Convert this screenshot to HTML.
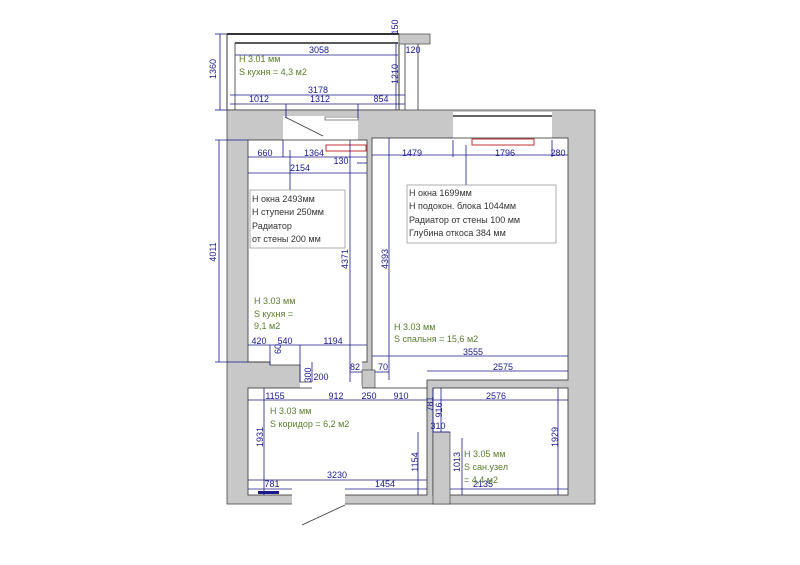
<!DOCTYPE html>
<html><head><meta charset="utf-8"><style>
html,body{margin:0;padding:0;background:#fff}
svg{display:block}
text{font-family:"Liberation Sans","DejaVu Sans",sans-serif;font-size:9px}
.d{fill:#1a1a8c}
.g{fill:#5a7a2a;font-size:9.5px}
.c{fill:#333;font-size:10.5px}
.dl{stroke:#1a1a8c;stroke-width:0.8;fill:none}
</style></head><body>
<svg width="800" height="565" viewBox="0 0 800 565">
<!-- balcony -->
<rect x="227" y="34" width="172" height="76" fill="#fff" stroke="#333" stroke-width="1"/>
<line x1="227" y1="34" x2="399" y2="34" stroke="#333" stroke-width="2"/>
<rect x="399" y="34" width="31" height="10" fill="#c8c8c8" stroke="#555" stroke-width="0.8"/>
<line x1="235" y1="43" x2="398" y2="43" stroke="#222" stroke-width="1.5"/>
<line x1="235" y1="43" x2="235" y2="110" stroke="#333" stroke-width="0.8"/>
<line x1="399" y1="44" x2="399" y2="110" stroke="#333" stroke-width="0.8"/>
<line x1="405" y1="44" x2="405" y2="110" stroke="#333" stroke-width="0.8"/>
<line x1="418" y1="44" x2="418" y2="110" stroke="#333" stroke-width="0.8"/>
<!-- main walls -->
<rect x="227" y="110" width="368" height="394" fill="#c8c8c8" stroke="#444" stroke-width="0.8"/>
<!-- vestibule opening -->
<rect x="283" y="116" width="75" height="26" fill="#fff"/>
<line x1="285" y1="117" x2="323" y2="136" stroke="#333" stroke-width="0.8"/>
<rect x="325" y="117" width="33" height="3" fill="#fff" stroke="#333" stroke-width="0.6"/>
<!-- window bedroom -->
<rect x="453" y="112" width="99" height="28" fill="#fff"/>
<line x1="453" y1="116" x2="552" y2="116" stroke="#333" stroke-width="1.5"/>
<!-- kitchen -->
<rect x="248" y="140" width="119" height="222" fill="#fff" stroke="#333" stroke-width="0.8"/>
<rect x="270" y="361" width="30" height="4" fill="#fff"/>
<rect x="300" y="361" width="62" height="28" fill="#fff"/>
<polyline points="248,362 270,362 270,365 300,365 300,382 312,382" fill="none" stroke="#333" stroke-width="0.8"/>
<!-- bedroom -->
<rect x="372" y="138" width="196" height="242" fill="#fff" stroke="#333" stroke-width="0.8"/>
<rect x="373" y="378" width="54" height="12" fill="#fff"/>
<line x1="427" y1="380" x2="427" y2="388" stroke="#333" stroke-width="0.8"/>
<rect x="362" y="370" width="13" height="18" fill="#c8c8c8" stroke="#333" stroke-width="0.6"/>
<!-- corridor -->
<rect x="248" y="388" width="179" height="107" fill="#fff" stroke="#333" stroke-width="0.8"/>
<rect x="312" y="386" width="50" height="4" fill="#fff"/>
<rect x="292" y="494" width="53" height="11" fill="#fff"/>
<line x1="345" y1="505" x2="302" y2="525" stroke="#333" stroke-width="0.8"/>
<!-- bathroom -->
<rect x="433" y="388" width="135" height="107" fill="#fff" stroke="#333" stroke-width="0.8"/>
<rect x="433" y="432" width="17" height="72" fill="#c8c8c8" stroke="#333" stroke-width="0.6"/>
<!-- radiators -->
<rect x="326" y="145" width="40" height="6" fill="none" stroke="#c03030" stroke-width="1"/>
<rect x="472" y="139" width="62" height="6" fill="none" stroke="#c03030" stroke-width="1"/>
<!-- dimension lines -->
<g class="dl">
<line x1="220" y1="34" x2="220" y2="110"/><line x1="215" y1="34" x2="227" y2="34"/><line x1="215" y1="110" x2="227" y2="110"/>
<line x1="235" y1="55" x2="398" y2="55"/>
<line x1="396" y1="43" x2="396" y2="110"/>
<line x1="230" y1="95" x2="405" y2="95"/>
<line x1="230" y1="104" x2="405" y2="104"/>
<line x1="286" y1="104" x2="286" y2="118"/><line x1="358" y1="104" x2="358" y2="118"/>
<line x1="219" y1="140" x2="219" y2="362"/><line x1="215" y1="140" x2="248" y2="140"/><line x1="215" y1="362" x2="248" y2="362"/>
<line x1="248" y1="157" x2="367" y2="157"/><line x1="283" y1="140" x2="283" y2="157"/>
<line x1="357" y1="163" x2="367" y2="163"/>
<line x1="248" y1="173" x2="367" y2="173"/>
<line x1="372" y1="155" x2="568" y2="155"/><line x1="453" y1="140" x2="453" y2="157"/><line x1="552" y1="140" x2="552" y2="157"/>
<line x1="290" y1="150" x2="290" y2="190"/><line x1="466" y1="145" x2="466" y2="185"/>
<line x1="350" y1="140" x2="350" y2="382"/>
<line x1="389" y1="138" x2="389" y2="380"/>
<line x1="248" y1="345" x2="367" y2="345"/><line x1="270" y1="345" x2="270" y2="365"/><line x1="300" y1="345" x2="300" y2="382"/>
<line x1="312" y1="362" x2="312" y2="382"/>
<line x1="350" y1="372" x2="362" y2="372"/><line x1="375" y1="372" x2="389" y2="372"/>
<line x1="372" y1="356" x2="568" y2="356"/>
<line x1="427" y1="371" x2="568" y2="371"/>
<line x1="248" y1="400" x2="427" y2="400"/>
<line x1="433" y1="400" x2="568" y2="400"/>
<line x1="433" y1="388" x2="433" y2="432"/><line x1="441" y1="388" x2="441" y2="432"/>
<line x1="433" y1="432" x2="450" y2="432"/>
<line x1="264" y1="388" x2="264" y2="495"/>
<line x1="418" y1="432" x2="418" y2="495"/>
<line x1="462" y1="438" x2="462" y2="495"/>
<line x1="558" y1="388" x2="558" y2="495"/>
<line x1="248" y1="480" x2="427" y2="480"/>
<line x1="248" y1="489" x2="292" y2="489"/><line x1="345" y1="489" x2="427" y2="489"/>
<line x1="450" y1="489" x2="568" y2="489"/>
</g>
<rect x="258" y="491" width="21" height="3" fill="#1a1a8c"/>
<!-- dimension text -->
<g class="d">
<text x="393" y="32" transform="rotate(-90 393 27)" text-anchor="middle">150</text>
<text x="319" y="53" text-anchor="middle">3058</text>
<text x="413" y="53" text-anchor="middle">120</text>
<text x="216" y="75" transform="rotate(-90 213 72)" text-anchor="middle">1360</text>
<text x="398" y="80" transform="rotate(-90 395 77)" text-anchor="middle">1210</text>
<text x="318" y="93" text-anchor="middle">3178</text>
<text x="259" y="102" text-anchor="middle">1012</text>
<text x="320" y="102" text-anchor="middle">1312</text>
<text x="381" y="102" text-anchor="middle">854</text>
<text x="265" y="156" text-anchor="middle">660</text>
<text x="314" y="156" text-anchor="middle">1364</text>
<text x="341" y="164" text-anchor="middle">130</text>
<text x="300" y="171" text-anchor="middle">2154</text>
<text x="412" y="156" text-anchor="middle">1479</text>
<text x="505" y="156" text-anchor="middle">1796</text>
<text x="558" y="156" text-anchor="middle">280</text>
<text x="216" y="258" transform="rotate(-90 213 255)" text-anchor="middle">4011</text>
<text x="348" y="265" transform="rotate(-90 345 262)" text-anchor="middle">4371</text>
<text x="388" y="265" transform="rotate(-90 385 262)" text-anchor="middle">4393</text>
<text x="259" y="344" text-anchor="middle">420</text>
<text x="285" y="344" text-anchor="middle">540</text>
<text x="333" y="344" text-anchor="middle">1194</text>
<text x="281" y="355" transform="rotate(-90 278 352)" text-anchor="middle">60</text>
<text x="311" y="381" transform="rotate(-90 308 378)" text-anchor="middle">300</text>
<text x="321" y="380" text-anchor="middle">200</text>
<text x="355" y="370" text-anchor="middle">82</text>
<text x="383" y="370" text-anchor="middle">70</text>
<text x="473" y="355" text-anchor="middle">3555</text>
<text x="503" y="370" text-anchor="middle">2575</text>
<text x="275" y="399" text-anchor="middle">1155</text>
<text x="336" y="399" text-anchor="middle">912</text>
<text x="369" y="399" text-anchor="middle">250</text>
<text x="401" y="399" text-anchor="middle">910</text>
<text x="496" y="399" text-anchor="middle">2576</text>
<text x="433" y="410" transform="rotate(-90 430 407)" text-anchor="middle">781</text>
<text x="442" y="416" transform="rotate(-90 439 413)" text-anchor="middle">916</text>
<text x="438" y="429" text-anchor="middle">310</text>
<text x="263" y="443" transform="rotate(-90 260 440)" text-anchor="middle">1931</text>
<text x="418" y="468" transform="rotate(-90 415 465)" text-anchor="middle">1154</text>
<text x="460" y="468" transform="rotate(-90 457 465)" text-anchor="middle">1013</text>
<text x="558" y="443" transform="rotate(-90 555 440)" text-anchor="middle">1929</text>
<text x="337" y="478" text-anchor="middle">3230</text>
<text x="272" y="487" text-anchor="middle">781</text>
<text x="385" y="487" text-anchor="middle">1454</text>
<text x="483" y="487" text-anchor="middle">2135</text>
</g>
<!-- green labels -->
<g class="g">
<text x="239" y="62">H 3.01 мм</text><text x="239" y="75">S кухня  = 4,3 м2</text>
<text x="254" y="304">H 3.03 мм</text><text x="254" y="317">S кухня  =</text><text x="254" y="329">9,1 м2</text>
<text x="394" y="330">H 3.03 мм</text><text x="394" y="342">S спальня  = 15,6 м2</text>
<text x="270" y="414">H 3.03 мм</text><text x="270" y="427">S коридор  = 6,2 м2</text>
<text x="464" y="457">H 3.05 мм</text><text x="464" y="470">S сан.узел</text><text x="464" y="483">= 4,4 м2</text>
</g>
<!-- callouts -->
<rect x="250" y="190" width="95" height="58" fill="#fff" stroke="#999" stroke-width="0.8"/>
<g class="c"><text x="252" y="202">Н окна 2493мм</text><text x="252" y="215">Н ступени 250мм</text><text x="252" y="229">Радиатор</text><text x="252" y="242">от стены 200 мм</text></g>
<rect x="407" y="185" width="149" height="58" fill="#fff" stroke="#999" stroke-width="0.8"/>
<g class="c"><text x="409" y="196">Н окна 1699мм</text><text x="409" y="209">Н подокон. блока 1044мм</text><text x="409" y="223">Радиатор от стены 100 мм</text><text x="409" y="236">Глубина откоса 384 мм</text></g>
</svg>
</body></html>
